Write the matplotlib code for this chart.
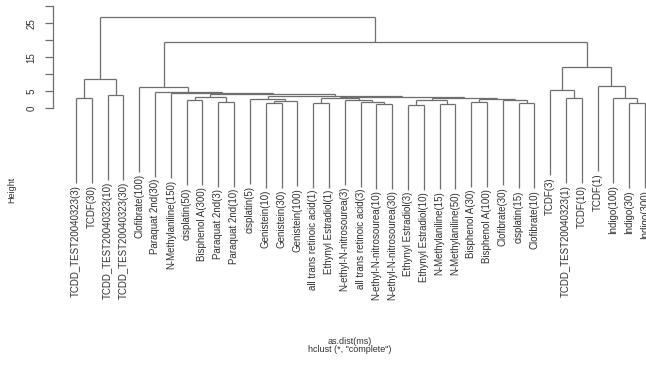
"""Dendrogram of as.dist(ms), hclust complete linkage"""
import matplotlib
matplotlib.use('Agg')
import matplotlib.pyplot as plt

plt.rcParams['font.family'] = ['Liberation Sans', 'DejaVu Sans']

# leaf labels, left to right
labels = [
    'TCDD_TEST20040323(3)', 'TCDF(30)', 'TCDD_TEST20040323(10)', 'TCDD_TEST20040323(30)',
    'Clofibrate(100)', 'Paraquat 2nd(30)', 'N-Methylaniline(150)', 'cisplatin(50)',
    'Bisphenol A(300)', 'Paraquat 2nd(3)', 'Paraquat 2nd(10)', 'cisplatin(5)',
    'Genistein(10)', 'Genistein(30)', 'Genistein(100)', 'all trans retinoic acid(1)',
    'Ethynyl Estradiol(1)', 'N-ethyl-N-nitrosourea(3)', 'all trans retinoic acid(3)',
    'N-ethyl-N-nitrosourea(10)', 'N-ethyl-N-nitrosourea(30)', 'Ethynyl Estradiol(3)',
    'Ethynyl Estradiol(10)', 'N-Methylaniline(15)', 'N-Methylaniline(50)', 'Bisphenol A(30)',
    'Bisphenol A(100)', 'Clofibrate(30)', 'cisplatin(15)', 'Clofibrate(10)',
    'TCDF(3)', 'TCDD_TEST20040323(1)', 'TCDF(10)', 'TCDF(1)',
    'Indigo(100)', 'Indigo(30)', 'Indigo(300)',
]

# R-style merge table: negative = leaf number, positive = earlier merge step
merge_left = [-1, -3, 1, -13, 4, -12, -16, -20, -19, -18, 7, -22, -24, 12, -26, -29, -28, 15,
              14, 11, 6, -8, -10, 22, 24, -7, -6, -5, -32, -31, -36, -35, -34, 30, 28, 3]
merge_right = [-2, -4, 2, -14, -15, 5, -17, -21, 8, 9, 10, -23, -25, 13, -27, -30, 16, 17,
               18, 19, 20, -9, -11, 23, 21, 25, 26, 27, -33, 29, -37, 31, 32, 33, 34, 35]
merge_height = [2.9, 3.9, 8.6, 1.6, 2.2, 2.8, 1.6, 1.4, 2.0, 2.5, 2.9, 1.0, 1.3, 2.3, 1.8,
                1.5, 2.4, 2.7, 3.0, 3.3, 3.6, 2.4, 2.0, 3.4, 4.1, 4.5, 4.8, 6.4, 3.0, 5.3,
                1.5, 3.0, 6.6, 12.1, 19.6, 27.0]

hang = 25.0
line_col = '#6e6e6e'
text_col = '#303030'

fig = plt.figure(figsize=(6.46, 3.85), dpi=100)
# axes placed so that y=0 sits at ~108px and y=30 at ~6px
px_per_unit = 3.4
ax_top_px, ax_bot_px = 5, 320
ax_left_px, ax_right_px = 53, 646
ax = fig.add_axes([ax_left_px / 646, 1 - ax_bot_px / 385,
                   (ax_right_px - ax_left_px) / 646, (ax_bot_px - ax_top_px) / 385])
ax.set_ylim((108.3 - ax_bot_px) / px_per_unit, (108.3 - ax_top_px) / px_per_unit)
ax.set_xlim(-0.456, 37.06)

node_x = {}


def child_xy(c):
    if c < 0:
        return float(-c), None
    return node_x[c], merge_height[c - 1]


for k, (l, r, h) in enumerate(zip(merge_left, merge_right, merge_height), start=1):
    xl, hl = child_xy(l)
    xr, hr = child_xy(r)
    for c, xc, hc in ((l, xl, hl), (r, xr, hr)):
        if hc is None:
            # leaf: hang down and put label underneath
            bottom = h - hang
            ax.plot([xc, xc], [h, bottom], color=line_col, lw=0.9, solid_capstyle='butt')
            ax.text(xc, bottom - 0.6, labels[-c - 1], rotation=90, ha='center', va='top',
                    fontsize=7, color=text_col)
        else:
            ax.plot([xc, xc], [hc, h], color=line_col, lw=0.9, solid_capstyle='butt')
    ax.plot([xl, xr], [h, h], color=line_col, lw=0.9, solid_capstyle='butt')
    node_x[k] = (xl + xr) / 2

for s in ['top', 'right', 'bottom']:
    ax.spines[s].set_visible(False)
ax.spines['left'].set_bounds(0, 30)
ax.spines['left'].set_color(line_col)
ax.spines['left'].set_linewidth(0.9)
ax.set_xticks([])
ax.set_yticks([0, 5, 10, 15, 20, 25, 30])
ax.set_yticklabels(['0', '5', '', '15', '', '25', ''], rotation=90, va='center',
                   fontsize=7, color=text_col)
ax.tick_params(axis='y', length=6, width=0.9, color=line_col, pad=6)

fig.text(12 / 646, 1 - 190 / 385, 'Height', rotation=90, ha='center', va='center',
         fontsize=6.5, color=text_col)
fig.text(350 / 646, 1 - 341 / 385, 'as.dist(ms)', ha='center', va='center',
         fontsize=6.5, color=text_col)
fig.text(350 / 646, 1 - 350 / 385, 'hclust (*, "complete")', ha='center', va='center',
         fontsize=6.5, color=text_col)

fig.savefig('out.png', dpi=100, facecolor='white')
